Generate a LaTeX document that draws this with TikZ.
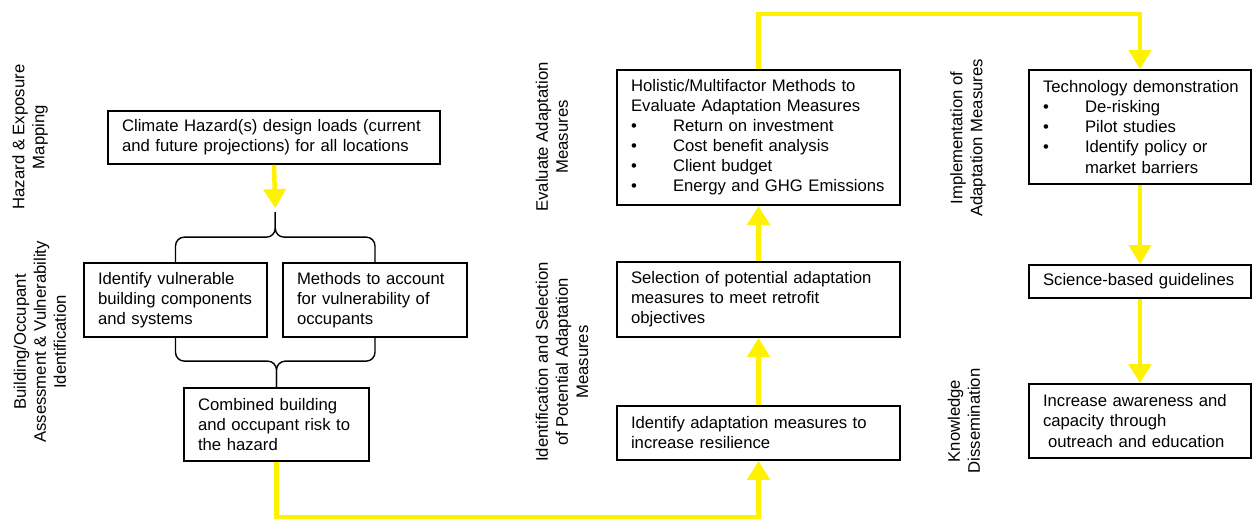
\documentclass[tikz,border=0pt]{standalone}
\usepackage{fontspec}
\setmainfont{Liberation Sans}
\usetikzlibrary{arrows.meta,calc}

\tikzset{
  stagebox/.style={draw,line width=1pt,align=left,inner xsep=0.28cm,inner ysep=0pt,
    font=\fontsize{9.5}{11.4}\selectfont},
  stagelabel/.style={rotate=90,align=center,font=\fontsize{9.5}{11.4}\selectfont},
  flow/.style={draw=yellow,line width=0.09cm,-{Triangle[width=0.44cm,length=0.38cm]}},
  bracket/.style={line width=0.8pt,rounded corners=5pt},
}
\newcommand{\bul}[1]{\makebox[0.84cm][l]{\textbullet}#1}

\begin{document}
\begin{tikzpicture}[x=0.02cm,y=-0.02cm]
\useasboundingbox (0,0) rectangle (1253,521);
%\draw[step=50,gray,very thin] (0,0) grid (1253,521);

% stage names down the side of each column
\node[stagelabel] (lhaz) at (30,137) {Hazard \& Exposure\\Mapping};
\node[stagelabel] (lvul) at (40,342) {Building/Occupant\\Assessment \& Vulnerability\\Identification};
\node[stagelabel] (leval) at (552,137) {Evaluate Adaptation\\Measures};
\node[stagelabel] (lsel) at (562,362) {Identification and Selection\\of Potential Adaptation\\Measures};
\node[stagelabel] (limp) at (968,138) {Implementation of\\Adaptation Measures};
\node[stagelabel] (lknow) at (964,421) {Knowledge\\Dissemination};

% left column
\node[stagebox,text width=6.08cm,minimum height=1.06cm] (haz) at (274,137.5)
  {Climate Hazard(s) design loads (current\\and future projections) for all locations};
\node[stagebox,text width=3.10cm,minimum height=1.48cm] (vbc) at (175.5,300)
  {Identify vulnerable\\building components\\and systems};
\node[stagebox,text width=3.12cm,minimum height=1.48cm] (vocc) at (375,300)
  {Methods to account\\for vulnerability of\\occupants};
\node[stagebox,text width=3.14cm,minimum height=1.46cm] (risk) at (276.5,424.5)
  {Combined building\\and occupant risk to\\the hazard};

% middle column
\node[stagebox,text width=5.10cm,minimum height=1.08cm] (idm) at (758.5,433)
  {Identify adaptation measures to\\increase resilience};
\node[stagebox,text width=5.10cm,minimum height=1.50cm] (selm) at (758.5,299.5)
  {Selection of potential adaptation\\measures to meet retrofit\\objectives};
\node[stagebox,text width=5.10cm,minimum height=2.70cm] (evalm) at (758.5,137.5)
  {Holistic/Multifactor Methods to\\Evaluate Adaptation Measures\\
   \bul{Return on investment}\\\bul{Cost benefit analysis}\\
   \bul{Client budget}\\\bul{Energy and GHG Emissions}};

% right column
\node[stagebox,text width=3.88cm,minimum height=2.28cm] (tech) at (1140,127)
  {\mbox{Technology demonstration}\\\bul{De-risking}\\\bul{Pilot studies}\\
   \bul{Identify policy or}\\\hspace*{0.84cm}market barriers};
\node[stagebox,text width=3.88cm,minimum height=0.66cm] (guide) at (1140,281.5)
  {Science-based guidelines};
\node[stagebox,text width=3.88cm,minimum height=1.48cm] (aware) at (1140,421)
  {Increase awareness and\\capacity through\\\hspace*{0.1cm}outreach and education};

% braces joining the two assessments
\coordinate (vtop) at ($(vbc.north)!.5!(vocc.north)+(0,-50)$);
\draw[bracket] (vbc.north) |- ($(vtop)+(0,25)$) -- (vtop);
\draw[bracket] (vocc.north) |- ($(vtop)+(0,25)$) -- (vtop);
\draw[bracket] (vbc.south) |- ($(risk.north)+(0,-26)$) -- (risk.north);
\draw[bracket] (vocc.south) |- ($(risk.north)+(0,-26)$) -- (risk.north);

% yellow flow
\draw[flow] (haz.south) -- ($(vtop)+(0,-4)$);
\draw[flow] (risk.south) -- ++(0,55) -| (idm.south);
\draw[flow] (idm.north) -- (selm.south);
\draw[flow] (selm.north) -- (evalm.south);
\draw[flow] (evalm.north) -- ++(0,-55) -| (tech.north);
\draw[flow] (tech.south) -- (guide.north);
\draw[flow] (guide.south) -- (aware.north);

\end{tikzpicture}
\end{document}
